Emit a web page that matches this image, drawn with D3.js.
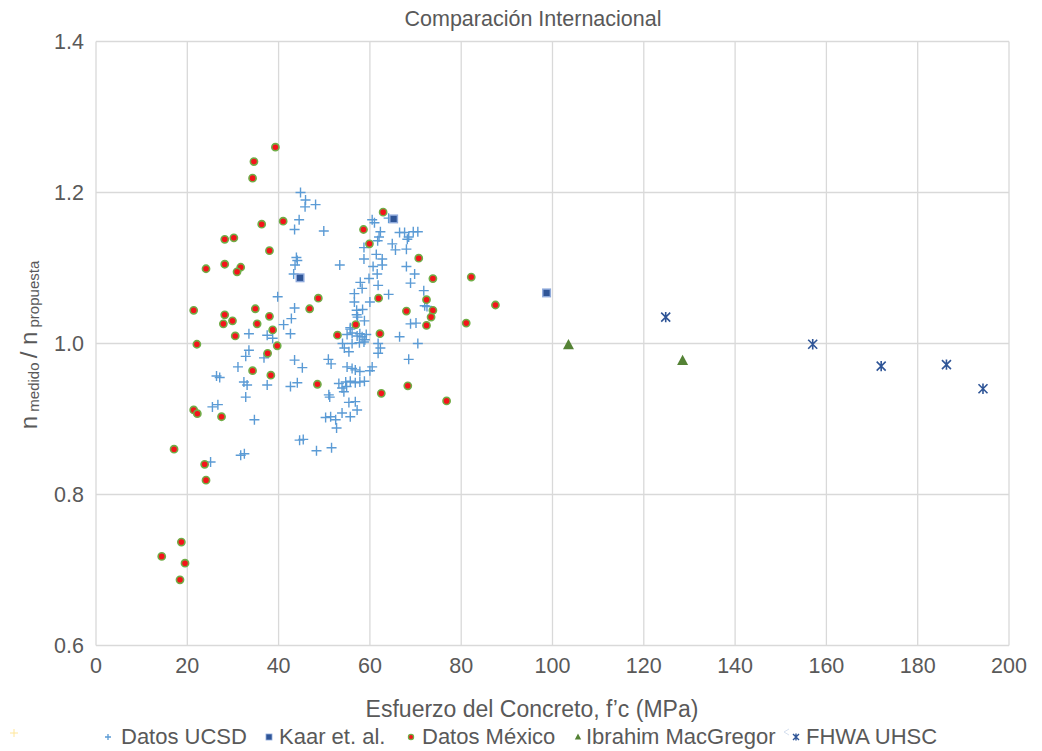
<!DOCTYPE html>
<html><head><meta charset="utf-8">
<script src="https://cdn.jsdelivr.net/npm/d3@7"></script>
<style>
body{margin:0;background:#fff}
text{font-family:"Liberation Sans",Arial,sans-serif;fill:#595959}
</style>
</head><body>
<svg id="c" width="1042" height="751"></svg>
<script>
// ---- data (f'c in MPa, ratio n medido / n propuesta) ----
const ucsd = [
[44.8,1.200],[45.9,1.190],[45.8,1.181],[48.1,1.184],[44.5,1.164],[43.5,1.151],[49.9,1.149],
[43.9,1.114],[44.1,1.110],[43.6,1.104],[43.3,1.092],[39.8,1.062],[43.5,1.047],[42.8,1.033],
[41.1,1.025],[42.6,1.013],[33.5,1.013],[37.5,1.011],[38.7,1.007],[33.5,0.991],[32.8,0.983],
[36.8,0.981],[31.1,0.969],[43.5,0.978],[45.2,0.968],[26.4,0.957],[27.1,0.955],[32.4,0.949],
[33.1,0.945],[37.5,0.945],[42.6,0.943],[44.1,0.948],[32.8,0.929],[25.5,0.916],[26.7,0.919],
[34.7,0.899],[31.7,0.852],[32.5,0.854],[25.1,0.843],[44.6,0.872],[45.4,0.873],[48.3,0.858],
[51.6,0.862],[50.9,0.979],[51.5,0.973],[55.0,0.969],[56.1,0.967],[56.8,0.965],[57.8,0.963],
[60.5,0.969],[60.0,0.964],[53.2,0.947],[54.7,0.949],[55.7,0.950],[56.8,0.948],[57.8,0.949],
[58.8,0.950],[53.9,0.941],[54.3,0.936],[54.9,0.943],[51.0,0.932],[51.2,0.929],[55.4,0.922],
[56.8,0.923],[57.2,0.912],[53.9,0.908],[55.7,0.903],[50.3,0.902],[51.4,0.903],[52.5,0.899],
[52.7,0.888],[54.0,1.000],[54.4,0.994],[55.4,0.989],[56.1,1.000],[61.8,1.000],[62.3,0.994],
[61.8,0.987],[66.5,1.009],[70.5,1.000],[68.5,0.979],[55.7,1.019],[56.1,1.014],[57.8,1.013],
[58.3,1.009],[58.9,1.005],[57.2,1.010],[55.0,1.012],[57.7,1.001],[58.7,1.002],[55.7,1.021],
[57.1,1.038],[57.3,1.035],[58.8,1.030],[58.4,1.045],[57.1,1.044],[56.6,1.055],[60.0,1.055],
[56.6,1.066],[64.1,1.065],[58.3,1.073],[61.8,1.077],[57.9,1.081],[59.8,1.086],[61.6,1.092],
[60.7,1.102],[62.7,1.104],[62.7,1.112],[61.4,1.118],[58.7,1.112],[58.7,1.127],[61.7,1.136],
[62.0,1.141],[62.3,1.148],[61.0,1.160],[60.5,1.164],[64.1,1.166],[66.5,1.147],[67.6,1.147],
[68.5,1.141],[69.5,1.148],[70.5,1.148],[68.2,1.138],[64.9,1.132],[65.6,1.124],[68.0,1.125],
[68.0,1.102],[69.8,1.092],[68.9,1.080],[71.8,1.070],[72.0,1.050],[72.5,1.049],[68.9,1.026],
[70.1,1.027],[53.4,1.104],[59.2,1.012]
];
const kaar = [[44.7,1.087],[65.2,1.165],[98.7,1.067]];
const mexico = [
[39.3,1.260],[34.6,1.241],[34.3,1.219],[36.3,1.158],[41.0,1.162],[28.2,1.138],[30.2,1.140],
[38.0,1.123],[24.1,1.099],[28.2,1.105],[31.7,1.101],[30.9,1.095],[21.4,1.044],[28.2,1.038],
[27.9,1.026],[29.9,1.030],[34.9,1.046],[38.0,1.036],[35.3,1.026],[46.8,1.046],[48.7,1.060],
[38.7,1.018],[62.9,1.174],[58.6,1.151],[59.9,1.132],[70.7,1.113],[73.8,1.086],[82.2,1.088],
[87.5,1.051],[61.9,1.060],[72.4,1.058],[68.0,1.043],[73.8,1.044],[73.4,1.035],[72.4,1.024],
[81.1,1.027],[56.9,1.025],[52.9,1.011],[62.2,1.013],[39.7,0.997],[30.5,1.010],[22.1,0.999],
[37.6,0.987],[34.3,0.964],[38.3,0.958],[48.5,0.946],[21.4,0.912],[22.2,0.907],[27.5,0.903],
[17.1,0.860],[23.8,0.840],[24.1,0.819],[62.5,0.934],[68.3,0.944],[76.8,0.924],
[18.7,0.737],[14.4,0.718],[19.5,0.709],[18.4,0.687]
];
const ibrahim = [[103.5,0.998],[128.5,0.977]];
const fhwa = [[124.8,1.035],[157.0,0.999],[172.0,0.970],[186.3,0.972],[194.3,0.940]];
const xTicks = [0,20,40,60,80,100,120,140,160,180,200];
const yTicks = [0.6,0.8,1.0,1.2,1.4];
const legendNames = ["Datos UCSD","Kaar et. al.","Datos México","Ibrahim MacGregor","FHWA UHSC"];

// ---- drawing ----
const svg = d3.select("#c");
const x = d3.scaleLinear().domain([0,200]).range([96,1009]);
const y = d3.scaleLinear().domain([0.6,1.4]).range([645.5,41.5]);
const grid = "#d9d9d9";

const g = svg.append("g");
g.selectAll(".vg").data(xTicks).join("line")
  .attr("x1",d=>x(d)).attr("x2",d=>x(d)).attr("y1",y(1.4)).attr("y2",y(0.6))
  .attr("stroke",grid).attr("stroke-width",1.3);
g.selectAll(".hg").data(yTicks).join("line")
  .attr("x1",x(0)).attr("x2",x(200)).attr("y1",d=>y(d)).attr("y2",d=>y(d))
  .attr("stroke",grid).attr("stroke-width",1.3);

// tick labels
svg.append("g").selectAll("text").data(xTicks).join("text")
  .attr("x",d=>x(d)).attr("y",665).attr("dy","0.35em")
  .attr("text-anchor","middle").attr("font-size",21.5).text(d=>d);
svg.append("g").selectAll("text").data(yTicks).join("text")
  .attr("x",84).attr("y",d=>y(d)).attr("dy","0.35em")
  .attr("text-anchor","end").attr("font-size",21.5).text(d=>d3.format(".1f")(d));

// titles
svg.append("text").attr("x",533).attr("y",18).attr("dy","0.35em")
  .attr("text-anchor","middle").attr("font-size",21.5).text("Comparación Internacional");
svg.append("text").attr("x",532).attr("y",709).attr("dy","0.35em")
  .attr("text-anchor","middle").attr("font-size",23).text("Esfuerzo del Concreto, f’c (MPa)");

const yt = svg.append("text").attr("transform","translate(37,345) rotate(-90)")
  .attr("text-anchor","middle");
yt.append("tspan").attr("font-size",24).text("n");
yt.append("tspan").attr("font-size",15).attr("dy",2).text(" medido ");
yt.append("tspan").attr("font-size",24).attr("dy",-2).text("/ n");
yt.append("tspan").attr("font-size",15).attr("dy",2).text(" propuesta");

// marker paths
const plusP = s => `M${-s},0H${s}M0,${-s}V${s}`;
const starP = s => `M${-s},${-s}L${s},${s}M${-s},${s}L${s},${-s}M0,${-s*1.15}V${s*1.15}`;
const triP = s => `M0,${-s*1.1}L${s},${s*0.75}L${-s},${s*0.75}Z`;

const marks = svg.append("g");
marks.selectAll(".u").data(ucsd).join("path")
  .attr("transform",d=>`translate(${x(d[0])},${y(d[1])})`)
  .attr("d",plusP(5)).attr("stroke","#5b9bd5").attr("stroke-width",1.4).attr("fill","none");
marks.selectAll(".m").data(mexico).join("circle")
  .attr("cx",d=>x(d[0])).attr("cy",d=>y(d[1])).attr("r",3.6)
  .attr("fill","#f4141b").attr("stroke","#70ad47").attr("stroke-width",1.6);
marks.selectAll(".k").data(kaar).join("rect")
  .attr("x",d=>x(d[0])-3.8).attr("y",d=>y(d[1])-3.8).attr("width",7.6).attr("height",7.6)
  .attr("fill","#2f5597").attr("stroke","#8faadc").attr("stroke-width",1.4);
marks.selectAll(".i").data(ibrahim).join("path")
  .attr("transform",d=>`translate(${x(d[0])},${y(d[1])})`)
  .attr("d",triP(5.5)).attr("fill","#548235");
marks.selectAll(".f").data(fhwa).join("path")
  .attr("transform",d=>`translate(${x(d[0])},${y(d[1])})`)
  .attr("d",starP(4.5)).attr("stroke","#2f5597").attr("stroke-width",1.6).attr("fill","none");

// legend
const ly = 736;
const lg = svg.append("g");
lg.append("path").attr("d",plusP(4)).attr("transform",`translate(14,${ly-3})`)
  .attr("stroke","#ffe699").attr("stroke-width",1).attr("fill","none");
const legX = [{m:108,t:121},{m:269,t:279},{m:411,t:422},{m:578,t:586},{m:796,t:806}];
legX.forEach((p,i)=>{
  lg.append("text").attr("x",p.t).attr("y",ly).attr("dy","0.35em")
    .attr("font-size",22).text(legendNames[i]);
  const t = `translate(${p.m},${ly+1})`;
  if(i===0) lg.append("path").attr("d",plusP(3)).attr("transform",t).attr("stroke","#5b9bd5").attr("stroke-width",1.3).attr("fill","none");
  if(i===1) lg.append("rect").attr("x",p.m-3).attr("y",ly-2).attr("width",6).attr("height",6).attr("fill","#2f5597").attr("stroke","#8faadc").attr("stroke-width",0.8);
  if(i===2) lg.append("circle").attr("cx",p.m).attr("cy",ly+1).attr("r",2.6).attr("fill","#f4141b").attr("stroke","#70ad47").attr("stroke-width",1.2);
  if(i===3) lg.append("path").attr("d",triP(3.2)).attr("transform",t).attr("fill","#548235");
  if(i===4) lg.append("path").attr("d",starP(3)).attr("transform",t).attr("stroke","#2f5597").attr("stroke-width",1.4).attr("fill","none");
});
lg.append("path").attr("d","M3,-3L-2,0L3,3").attr("transform",`translate(786,${ly-4})`)
  .attr("stroke","#d6e0ef").attr("stroke-width",1).attr("fill","none");
</script>
</body></html>
